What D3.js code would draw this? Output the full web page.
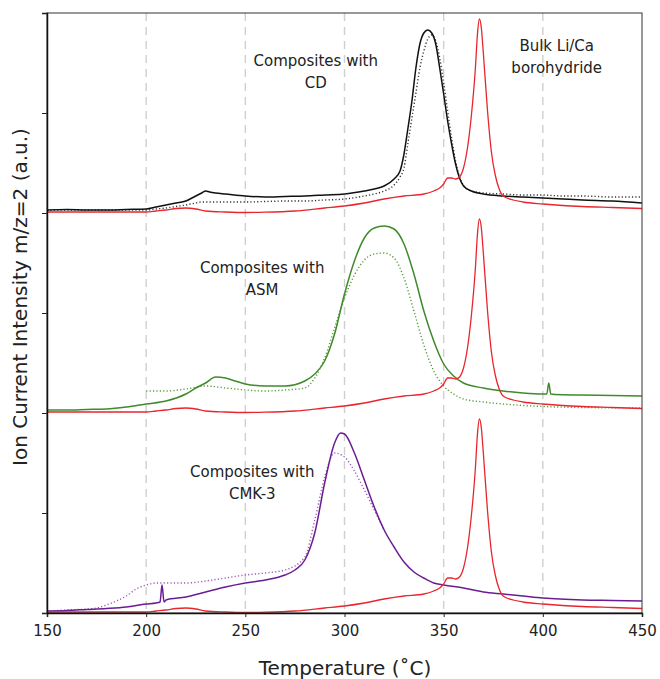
<!DOCTYPE html>
<html><head><meta charset="utf-8">
<script src="https://cdn.jsdelivr.net/npm/d3@7"></script>
<style>body{margin:0;background:#fff}svg{display:block}text{font-family:"DejaVu Sans",sans-serif;fill:#222}</style>
</head><body><svg id="c" width="660" height="679"></svg>
<script>
// Temperature grid of the bulk reference (red) curve
const redT = [150,170,190,200,205,210,215,220,225,230,240,250,260,275,290,300,310,320,330,340,345,348,350,352,354,356,358,360,362,364,366,367,368,369,370,372,374,376,378,380,385,390,400,410,420,435,450];
const redV = [0.01,0.01,0.01,0.01,0.02,0.03,0.045,0.05,0.04,0.02,0.01,0.005,0.008,0.02,0.05,0.07,0.1,0.14,0.17,0.19,0.22,0.25,0.29,0.35,0.35,0.34,0.36,0.45,0.65,0.98,1.45,1.78,1.94,1.85,1.6,1.05,0.62,0.38,0.24,0.17,0.13,0.11,0.09,0.075,0.065,0.055,0.045];

// Composites with CD (black), top panel
const cdT = [150,160,170,180,190,200,205,210,215,220,225,228,230,232,235,240,250,260,270,280,290,300,310,315,320,325,328,330,332,334,336,338,340,342,344,346,348,350,352,354,356,358,360,364,370,380,390,400,410,420,435,450];
const cdSolid = [0.03,0.035,0.03,0.03,0.035,0.04,0.06,0.08,0.1,0.12,0.17,0.2,0.22,0.21,0.2,0.19,0.17,0.16,0.165,0.17,0.18,0.19,0.22,0.24,0.27,0.34,0.42,0.59,0.85,1.12,1.45,1.69,1.8,1.83,1.8,1.69,1.45,1.19,0.92,0.69,0.49,0.35,0.27,0.22,0.19,0.17,0.16,0.15,0.14,0.13,0.12,0.1];
const cdDotted = [0.03,0.03,0.03,0.03,0.03,0.03,0.04,0.05,0.065,0.08,0.1,0.11,0.11,0.11,0.11,0.11,0.11,0.115,0.12,0.12,0.13,0.14,0.17,0.19,0.22,0.28,0.36,0.45,0.7,0.95,1.2,1.45,1.62,1.74,1.78,1.72,1.55,1.3,1.02,0.75,0.52,0.36,0.28,0.22,0.2,0.19,0.18,0.18,0.17,0.17,0.16,0.16];

// Composites with ASM (green), middle panel
const asmT = [150,160,170,180,190,200,210,220,225,230,235,240,245,250,260,270,280,285,290,295,300,305,310,315,320,325,330,335,340,345,350,355,360,370,380,390,400,402,403,404,406,420,435,450];
const asmSolid = [0.03,0.03,0.035,0.04,0.06,0.09,0.12,0.19,0.25,0.3,0.36,0.35,0.32,0.29,0.27,0.27,0.32,0.39,0.52,0.79,1.19,1.52,1.75,1.85,1.87,1.84,1.69,1.39,1.02,0.72,0.49,0.37,0.3,0.25,0.22,0.2,0.19,0.19,0.3,0.19,0.185,0.18,0.175,0.17];
const asmDottedT = [200,210,220,230,240,250,260,270,280,285,290,295,300,305,310,315,320,325,330,335,340,345,350,355,360,370,380,400,420,450];
const asmDotted = [0.22,0.22,0.24,0.27,0.25,0.23,0.22,0.23,0.25,0.35,0.55,0.85,1.15,1.38,1.53,1.59,1.6,1.55,1.35,1.02,0.68,0.42,0.27,0.19,0.14,0.11,0.09,0.065,0.055,0.05];

// Composites with CMK-3 (purple), bottom panel
const cmkT = [150,160,170,180,190,200,205,207,208,209,210,220,230,240,250,260,270,275,280,285,290,295,298,300,305,310,315,320,325,330,335,340,345,350,360,370,380,390,400,420,435,450];
const cmkSolid = [0.02,0.025,0.035,0.045,0.06,0.09,0.1,0.11,0.28,0.11,0.13,0.16,0.21,0.26,0.3,0.33,0.38,0.43,0.53,0.8,1.3,1.7,1.8,1.79,1.6,1.33,1.06,0.83,0.66,0.51,0.41,0.35,0.3,0.28,0.25,0.21,0.19,0.17,0.15,0.13,0.125,0.12];
const cmkDottedT = [150,160,170,175,180,185,190,195,200,205,210,220,230,240,250,260,270,280,285,290,295,300,305,310,315,320];
const cmkDotted = [0.02,0.03,0.04,0.05,0.08,0.12,0.17,0.24,0.28,0.3,0.3,0.3,0.32,0.35,0.38,0.4,0.43,0.56,0.93,1.36,1.6,1.56,1.42,1.23,1.03,0.83];

const xTicks = [150,200,250,300,350,400,450];
const gridT = [200,250,300,350,400];
const yTicks = [0,1,2,3,4,5,6];
const panelOffsets = [4,2,0];
const labels = [
  {lines:["Composites with","CD"], t:285.5, v:5.47},
  {lines:["Composites with","ASM"], t:258.5, v:3.4},
  {lines:["Composites with","CMK-3"], t:253.5, v:1.36},
  {lines:["Bulk Li/Ca","borohydride"], t:407, v:5.62}
];

const svg = d3.select("#c");
const x = d3.scaleLinear().domain([150,450]).range([47,642]);
const y = d3.scaleLinear().domain([0,6]).range([613,13]);

// grid
svg.append("g").selectAll("line").data(gridT).join("line")
  .attr("x1",d=>x(d)).attr("x2",d=>x(d)).attr("y1",y(6)).attr("y2",y(0))
  .attr("stroke","#cfcfcf").attr("stroke-width",1.4).attr("stroke-dasharray","8,6");

function line(ts, vs, off){
  return d3.line().curve(d3.curveMonotoneX).x((d,i)=>x(ts[i])).y((d,i)=>y(vs[i]+off))(vs);
}
function draw(ts, vs, off, color, dotted, w){
  svg.append("path").attr("d",line(ts,vs,off)).attr("fill","none")
    .attr("stroke",color).attr("stroke-width",w||1.3)
    .attr("stroke-dasharray",dotted?"1.2,2.2":null).attr("stroke-linejoin","round");
}
// top panel
draw(cdT, cdDotted, 4, "#333", true, 1.4);
draw(cdT, cdSolid, 4, "#111", false, 1.5);
// middle
draw(asmDottedT, asmDotted, 2, "#5a9a3a", true, 1.4);
draw(asmT, asmSolid, 2, "#3f8a2a", false, 1.5);
// bottom
draw(cmkDottedT, cmkDotted, 0, "#9a5ab5", true, 1.4);
draw(cmkT, cmkSolid, 0, "#6a1d92", false, 1.5);
// red references
panelOffsets.forEach(o=>draw(redT, redV, o, "#e8262e", false, 1.3));

// frame
svg.append("rect").attr("x",x(150)).attr("y",y(6)).attr("width",x(450)-x(150)).attr("height",y(0)-y(6))
  .attr("fill","none").attr("stroke","#333").attr("stroke-width",1);

// axes
const gx = svg.append("g").attr("transform",`translate(0,${y(0)})`)
  .call(d3.axisBottom(x).tickValues(xTicks).tickSize(4).tickPadding(8));
gx.selectAll("text").style("font-size","15px").attr("fill","#222");
const gy = svg.append("g").attr("transform",`translate(${x(150)},0)`)
  .call(d3.axisLeft(y).tickValues(yTicks).tickSize(5).tickFormat(""));
[gx,gy].forEach(g=>{g.select(".domain").attr("stroke","#111").attr("stroke-width",1.5);g.selectAll("line").attr("stroke","#222");});

// annotations
labels.forEach(l=>{
  const t = svg.append("text").attr("text-anchor","middle").style("font-size","15px");
  l.lines.forEach((s,i)=>t.append("tspan").attr("x",x(l.t)).attr("y",y(l.v)+i*22).text(s));
});

svg.append("text").attr("x",345).attr("y",675).attr("text-anchor","middle")
  .style("font-size","20px").text("Temperature (\u02DAC)");
svg.append("text").attr("transform","translate(27,297) rotate(-90)").attr("text-anchor","middle")
  .style("font-size","20px").text("Ion Current Intensity m/z=2 (a.u.)");
</script></body></html>
